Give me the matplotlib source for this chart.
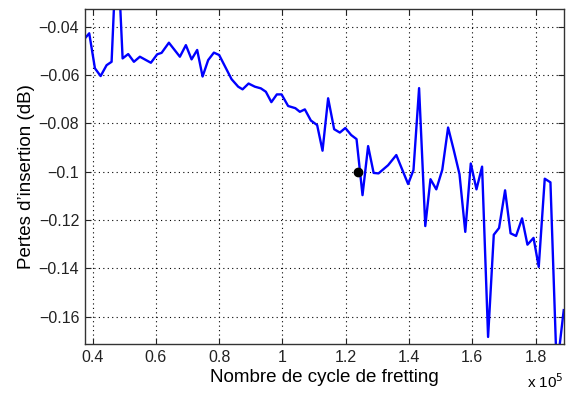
"""Insertion loss versus number of fretting cycles."""

import numpy as np
import matplotlib.pyplot as plt
from matplotlib.ticker import FuncFormatter

plt.rcParams["font.family"] = ["Liberation Sans", "DejaVu Sans"]

# Number of fretting cycles (x 1e5)
cycles_e5 = [
    0.3757, 0.3893, 0.4073, 0.4253, 0.4442, 0.4600, 0.4771, 0.4948, 0.5125, 0.5305,
    0.5494, 0.5842, 0.6041, 0.6180, 0.6411, 0.6758, 0.6948, 0.7128, 0.7305, 0.7476,
    0.7652, 0.7833, 0.8000, 0.8180, 0.8392, 0.8601, 0.8740, 0.8929, 0.9128, 0.9318,
    0.9476, 0.9650, 0.9823, 0.9972, 1.0180, 1.0408, 1.0550, 1.0708, 1.0898, 1.1097,
    1.1267, 1.1444, 1.1634, 1.1814, 1.1988, 1.2171, 1.2342, 1.2531, 1.2708, 1.2882,
    1.3037, 1.3340, 1.3599, 1.3972, 1.4142, 1.4319, 1.4515, 1.4679, 1.4863, 1.5052,
    1.5236, 1.5416, 1.5596, 1.5779, 1.5953, 1.6133, 1.6310, 1.6500, 1.6680, 1.6847,
    1.7037, 1.7211, 1.7384, 1.7574, 1.7744, 1.7937, 1.8101, 1.8291, 1.8471, 1.8670,
    1.8891,
]

# Insertion loss (dB)
loss_db = [
    -0.0448, -0.0427, -0.0572, -0.0604, -0.0559, -0.0545, -0.0029, -0.0531, -0.0513, -0.0545,
    -0.0524, -0.0549, -0.0514, -0.0508, -0.0466, -0.0524, -0.0476, -0.0535, -0.0496, -0.0606,
    -0.0538, -0.0507, -0.0517, -0.0563, -0.0617, -0.0648, -0.0659, -0.0635, -0.0648, -0.0655,
    -0.0669, -0.0712, -0.0680, -0.0680, -0.0728, -0.0737, -0.0752, -0.0742, -0.0788, -0.0807,
    -0.0913, -0.0696, -0.0824, -0.0838, -0.0819, -0.0848, -0.0865, -0.1097, -0.0894, -0.1005,
    -0.1007, -0.0973, -0.0931, -0.1051, -0.0993, -0.0654, -0.1225, -0.1031, -0.1073, -0.0992,
    -0.0817, -0.0911, -0.1010, -0.1249, -0.0966, -0.1073, -0.0979, -0.1684, -0.1261, -0.1233,
    -0.1077, -0.1255, -0.1266, -0.1193, -0.1302, -0.1274, -0.1394, -0.1029, -0.1044, -0.1822,
    -0.1573,
]

# Highlighted measurement
marker_cycle_e5 = 1.24
marker_loss = -0.10

x_ticks_e5 = [0.4, 0.6, 0.8, 1.0, 1.2, 1.4, 1.6, 1.8]
y_ticks = [-0.16, -0.14, -0.12, -0.10, -0.08, -0.06, -0.04]

cycles = np.array(cycles_e5) * 1e5

fig = plt.figure(figsize=(5.70, 3.97), dpi=100)
ax = fig.add_axes([0.149, 0.133, 0.840, 0.844])

ax.plot(cycles, loss_db, color=(0, 0, 1), linewidth=1.7)
ax.plot(marker_cycle_e5 * 1e5, marker_loss, "o", color="black", markersize=6)

ax.set_xlim(cycles[0], cycles[-1])
ax.set_ylim(-0.1714, -0.0327)
ax.set_xticks(np.array(x_ticks_e5) * 1e5)
ax.set_yticks(y_ticks)
ax.xaxis.set_major_formatter(FuncFormatter(lambda v, p: f"{v / 1e5:g}"))
ax.yaxis.set_major_formatter(FuncFormatter(lambda v, p: f"{v:g}".replace("-", "\u2212")))

ax.grid(True, linestyle=(0, (1, 3)), color="black", linewidth=0.8)
ax.tick_params(direction="in", length=4, width=0.8, top=True, right=True,
               labelsize=11.5, colors="#222222", pad=4)
for spine in ax.spines.values():
    spine.set_linewidth(1.0)
    spine.set_color("#333333")

ax.set_xlabel("Nombre de cycle de fretting", fontsize=13.5, labelpad=3)
ax.set_ylabel("Pertes d\u2019insertion (dB)", fontsize=13.5, labelpad=3)
ax.text(1.0, -0.085, r"x 10$^5$", transform=ax.transAxes, ha="right", va="top",
        fontsize=11)

fig.savefig("out.png", dpi=100)
